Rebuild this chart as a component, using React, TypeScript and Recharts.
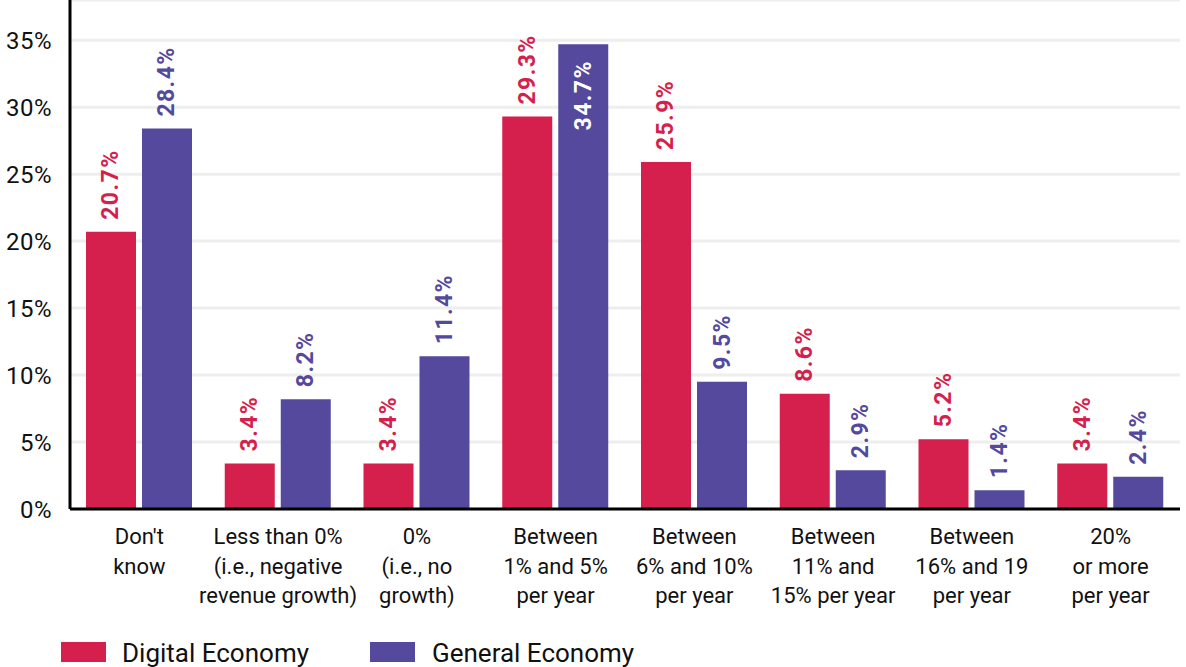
import React from "react";
import { BarChart, Bar, XAxis, YAxis, CartesianGrid, Legend, LabelList } from "recharts";

const categories = [
  "Don't|know",
  "Less than 0%|(i.e., negative|revenue growth)",
  "0%|(i.e., no|growth)",
  "Between|1% and 5%|per year",
  "Between|6% and 10%|per year",
  "Between|11% and|15% per year",
  "Between|16% and 19|per year",
  "20%|or more|per year",
];
const digitalEconomy = [20.7, 3.4, 3.4, 29.3, 25.9, 8.6, 5.2, 3.4];
const generalEconomy = [28.4, 8.2, 11.4, 34.7, 9.5, 2.9, 1.4, 2.4];
const yTicks = [0, 5, 10, 15, 20, 25, 30, 35];

const RED = "#D51F4D";
const PURPLE = "#55499D";
const FONT = "Roboto, 'Noto Sans', sans-serif";

const data = categories.map((c, i) => ({
  name: c,
  digital: digitalEconomy[i],
  general: generalEconomy[i],
}));

const CategoryTick = (props: any) => {
  const { x, y, payload } = props;
  const lines = String(payload.value).split("|");
  return (
    <g>
      {lines.map((l, i) => (
        <text
          key={i}
          x={x}
          y={y + 27 + i * 29.5}
          textAnchor="middle"
          fill="#111"
          fontSize={22}
          fontFamily={FONT}
        >
          {l}
        </text>
      ))}
    </g>
  );
};

const makeLabel = (color: string) => (props: any) => {
  const { x, y, width, value } = props;
  const cx = x + width / 2;
  const inside = value > 33;
  const ty = inside ? y + 16 : y - 12;
  return (
    <text
      x={cx}
      y={ty}
      transform={`rotate(-90, ${cx}, ${ty})`}
      textAnchor={inside ? "end" : "start"}
      dominantBaseline="central"
      fill={inside ? "#fff" : color}
      fontSize={23}
      fontWeight={700}
      letterSpacing={1.4}
      fontFamily={FONT}
    >
      {`${value}%`}
    </text>
  );
};

const LegendContent = () => (
  <div style={{ position: "relative", height: 50, width: 1186, fontFamily: FONT }}>
    <div style={{ position: "absolute", left: 61, top: 25, width: 45, height: 20, background: RED }} />
    <div style={{ position: "absolute", left: 122, top: 21, fontSize: 26, lineHeight: "30px", color: "#111" }}>
      Digital Economy
    </div>
    <div style={{ position: "absolute", left: 370, top: 25, width: 45, height: 20, background: PURPLE }} />
    <div style={{ position: "absolute", left: 432, top: 21, fontSize: 26, lineHeight: "30px", color: "#111" }}>
      General Economy
    </div>
  </div>
);

export default function App() {
  return (
    <div>
      <style>{"body{margin:0}"}</style>
      <BarChart
        width={1186}
        height={667}
        data={data}
        margin={{ top: 0, right: 6, bottom: 0, left: 0 }}
        barSize={50}
        barGap={6}
      >
        <CartesianGrid vertical={false} stroke="#EEEEEE" strokeWidth={3} />
        <XAxis
          dataKey="name"
          tick={<CategoryTick />}
          tickLine={false}
          axisLine={{ stroke: "#000", strokeWidth: 3 }}
          height={108}
          interval={0}
        />
        <YAxis
          width={70}
          domain={[0, 38]}
          ticks={yTicks}
          tickFormatter={(v: number) => `${v}%`}
          tickLine={false}
          tickSize={10}
          tickMargin={8}
          axisLine={{ stroke: "#000", strokeWidth: 3 }}
          tick={{ fill: "#111", fontSize: 24, fontFamily: FONT, letterSpacing: 0.5 }}
        />
        <Legend verticalAlign="bottom" align="left" content={<LegendContent />} wrapperStyle={{ left: 0, bottom: 0 }} />
        <Bar dataKey="digital" fill={RED} isAnimationActive={false}>
          <LabelList dataKey="digital" content={makeLabel(RED)} />
        </Bar>
        <Bar dataKey="general" fill={PURPLE} isAnimationActive={false}>
          <LabelList dataKey="general" content={makeLabel(PURPLE)} />
        </Bar>
      </BarChart>
    </div>
  );
}
